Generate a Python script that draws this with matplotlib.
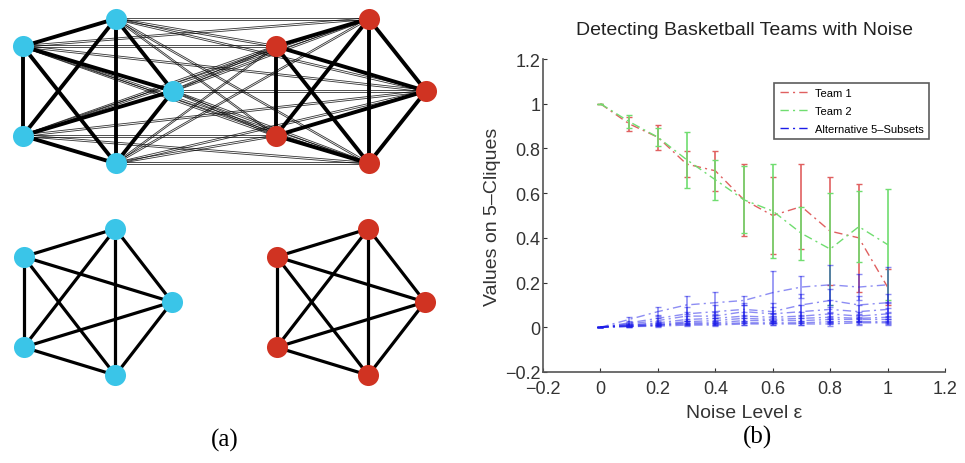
import numpy as np
import matplotlib
matplotlib.use('Agg')
import matplotlib.pyplot as plt
from matplotlib.lines import Line2D

# ---- panel (b) data: values on 5-cliques vs noise level
noise = [0.0, 0.1, 0.2, 0.3, 0.4, 0.5, 0.6, 0.7, 0.8, 0.9, 1.0]
team1_mean = [1.00, 0.91, 0.85, 0.73, 0.70, 0.57, 0.50, 0.54, 0.43, 0.40, 0.18]
team1_err = [0.00, 0.03, 0.055, 0.06, 0.09, 0.16, 0.17, 0.19, 0.24, 0.24, 0.08]
team2_mean = [1.00, 0.92, 0.85, 0.75, 0.66, 0.57, 0.52, 0.42, 0.35, 0.45, 0.37]
team2_err = [0.00, 0.03, 0.04, 0.125, 0.09, 0.15, 0.21, 0.12, 0.25, 0.16, 0.25]

alt1_mean = [0.0, 0.035, 0.07, 0.10, 0.11, 0.12, 0.155, 0.18, 0.19, 0.18, 0.19]
alt1_err = [0.0, 0.010, 0.020, 0.040, 0.050, 0.020, 0.095, 0.050, 0.090, 0.060, 0.080]
alt2_mean = [0.0, 0.020, 0.040, 0.060, 0.070, 0.080, 0.070, 0.100, 0.120, 0.100, 0.110]
alt2_err = [0.0, 0.008, 0.015, 0.030, 0.030, 0.030, 0.040, 0.050, 0.050, 0.040, 0.040]
alt3_mean = [0.0, 0.015, 0.030, 0.050, 0.050, 0.070, 0.060, 0.070, 0.080, 0.070, 0.080]
alt3_err = [0.0, 0.006, 0.010, 0.020, 0.020, 0.030, 0.030, 0.030, 0.040, 0.030, 0.035]
alt4_mean = [0.0, 0.010, 0.020, 0.035, 0.040, 0.050, 0.045, 0.050, 0.060, 0.050, 0.060]
alt4_err = [0.0, 0.005, 0.008, 0.015, 0.015, 0.020, 0.020, 0.020, 0.030, 0.020, 0.025]
alt5_mean = [0.0, 0.010, 0.015, 0.025, 0.030, 0.040, 0.035, 0.040, 0.045, 0.040, 0.045]
alt5_err = [0.0, 0.004, 0.006, 0.010, 0.012, 0.015, 0.015, 0.015, 0.020, 0.015, 0.020]
alt6_mean = [0.0, 0.005, 0.010, 0.020, 0.020, 0.030, 0.030, 0.030, 0.035, 0.035, 0.035]
alt6_err = [0.0, 0.003, 0.005, 0.008, 0.008, 0.010, 0.010, 0.010, 0.015, 0.012, 0.015]
alt7_mean = [0.0, 0.005, 0.010, 0.015, 0.015, 0.020, 0.020, 0.020, 0.025, 0.025, 0.025]
alt7_err = [0.0, 0.002, 0.004, 0.006, 0.006, 0.008, 0.008, 0.008, 0.010, 0.010, 0.010]
alt8_mean = [0.0, 0.003, 0.005, 0.010, 0.010, 0.015, 0.015, 0.015, 0.015, 0.020, 0.020]
alt8_err = [0.0, 0.002, 0.003, 0.004, 0.004, 0.006, 0.006, 0.006, 0.008, 0.008, 0.008]

alt_means = [alt1_mean, alt2_mean, alt3_mean, alt4_mean, alt5_mean, alt6_mean, alt7_mean, alt8_mean]
alt_errs = [alt1_err, alt2_err, alt3_err, alt4_err, alt5_err, alt6_err, alt7_err, alt8_err]

x_ticks = [-0.2, 0, 0.2, 0.4, 0.6, 0.8, 1, 1.2]
tick_labels = ['\u22120.2', '0', '0.2', '0.4', '0.6', '0.8', '1', '1.2']
series_names = ['Team 1', 'Team 2', 'Alternative 5\u2013Subsets']

# ---- panel (a) data: two basketball teams of five players
team_size = 5
cyan = '#3ac5e8'
red = '#d03322'
c_team1 = '#e06060'
c_team2 = '#70dd70'
c_alt = '#1c1ce8'

W, H = 965, 464
fig = plt.figure(figsize=(W / 100, H / 100), dpi=100)
plt.rcParams['font.family'] = ['Liberation Sans', 'DejaVu Sans']
serif = ['Liberation Serif', 'DejaVu Serif']


def pentagon(cx, cy, rx, ry):
  # circular layout, first node on the right, going counter-clockwise
  ang = np.deg2rad(np.arange(team_size) * 360.0 / team_size)
  return np.column_stack([cx + rx * np.cos(ang), cy - ry * np.sin(ang)])


def draw_clique(ax, pts, lw):
  for i in range(len(pts)):
    for j in range(i + 1, len(pts)):
      ax.plot([pts[i, 0], pts[j, 0]], [pts[i, 1], pts[j, 1]], color='black', lw=lw,
              solid_capstyle='round', zorder=2)


ax_a = fig.add_axes([0, 0, 460 / W, 1])
ax_a.set_xlim(0, 460)
ax_a.set_ylim(H, 0)
ax_a.axis('off')

# top: both teams joined into one graph
top_c = pentagon(90, 92, 83, 76)
top_r = pentagon(343, 92, 83, 76)
for p in top_c:
  for q in top_r:
    # drawn twice, slightly apart, as in the original rendering
    for off in (-0.9, 0.9):
      ax_a.plot([p[0], q[0]], [p[1] + off, q[1] + off], color='black', lw=0.6, alpha=0.8, zorder=1)
draw_clique(ax_a, top_c, 2.8)
draw_clique(ax_a, top_r, 2.8)
ax_a.scatter(top_c[:, 0], top_c[:, 1], s=230, color=cyan, zorder=3, linewidths=0)
ax_a.scatter(top_r[:, 0], top_r[:, 1], s=230, color=red, zorder=3, linewidths=0)

# bottom: the two cliques on their own
bot_c = pentagon(90, 303, 82, 77)
bot_r = pentagon(343, 303, 82, 77)
draw_clique(ax_a, bot_c, 2.3)
draw_clique(ax_a, bot_r, 2.3)
ax_a.scatter(bot_c[:, 0], bot_c[:, 1], s=230, color=cyan, zorder=3, linewidths=0)
ax_a.scatter(bot_r[:, 0], bot_r[:, 1], s=230, color=red, zorder=3, linewidths=0)

fig.text(225 / W, 1 - 440 / H, '(a)', ha='center', va='center', fontsize=18, family=serif)
fig.text(757 / W, 1 - 437 / H, '(b)', ha='center', va='center', fontsize=18, family=serif)

# ---- panel (b)
ax = fig.add_axes([543 / W, 91 / H, 402 / W, 313 / H])
dashdot = (0, (6, 3, 1.5, 3))
bar_kw = dict(ls=dashdot, lw=1.0, elinewidth=1.2, capsize=2.5, capthick=1.0)

ax.errorbar(noise, team1_mean, yerr=team1_err, color=c_team1, ecolor=c_team1, zorder=2, **bar_kw)
ax.errorbar(noise, team2_mean, yerr=team2_err, color=c_team2, ecolor=c_team2, zorder=3, **bar_kw)
for m, e in zip(alt_means, alt_errs):
  ax.errorbar(noise, m, yerr=e, color=c_alt, ecolor=c_alt, alpha=0.5, zorder=4, **bar_kw)

ax.set_xlim(-0.2, 1.2)
ax.set_ylim(-0.2, 1.2)
ax.set_xticks(x_ticks)
ax.set_xticklabels(tick_labels)
ax.set_yticks(x_ticks)
ax.set_yticklabels(tick_labels)
ax.tick_params(direction='in', length=3, labelsize=13, colors='#333333')
ax.tick_params(axis='x', pad=6)
ax.tick_params(axis='y', pad=2)
for s in ['top', 'right']:
  ax.spines[s].set_visible(False)
for s in ['left', 'bottom']:
  ax.spines[s].set_color('#555555')
  ax.spines[s].set_linewidth(1.2)

ax.set_title('Detecting Basketball Teams with Noise', fontsize=14, color='#222222', pad=18)
ax.set_xlabel('Noise Level \u03b5', fontsize=14, color='#333333', labelpad=5)
ax.set_ylabel('Values on 5\u2013Cliques', fontsize=14, color='#333333', labelpad=3)

handles = [Line2D([], [], color=c, ls=dashdot, lw=1.0) for c in (c_team1, c_team2, c_alt)]
leg = ax.legend(handles, series_names, loc='upper right', bbox_to_anchor=(0.975, 0.942),
                fontsize=8, frameon=True, fancybox=False, edgecolor='#333333',
                handlelength=2.6, borderpad=0.5, labelspacing=0.7, handletextpad=0.6)
leg.get_frame().set_linewidth(1.2)

fig.savefig('out.png', dpi=100)
